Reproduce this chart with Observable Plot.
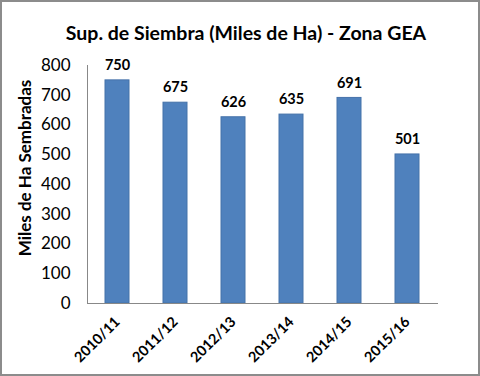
<!DOCTYPE html>
<html>
<head>
<meta charset="utf-8">
<script src="https://cdn.jsdelivr.net/npm/d3@7"></script>
<script src="https://cdn.jsdelivr.net/npm/@observablehq/plot@0.6"></script>
<style>
  html, body { margin: 0; padding: 0; background: #fff; }
  #frame { position: relative; width: 480px; height: 376px; box-sizing: border-box; border: 2px solid #8c8c8c; background: #fff; font-family: Lato, "Open Sans", sans-serif; overflow: hidden; }
  #title { height: 51px; text-align: center; font-weight: bold; font-size: 19.5px; line-height: 20px; padding-top: 21px; box-sizing: border-box; padding-left: 12px; color: #000; }
  #ylabel { position: absolute; left: 22px; top: 166px; transform: translate(-50%, -50%) rotate(-90deg); white-space: nowrap; font-weight: bold; font-size: 17px; color: #000; }
  #chart svg { display: block; }
</style>
</head>
<body>
<div id="frame">
  <div id="title">Sup. de Siembra (Miles de Ha) - Zona GEA</div>
  <div id="ylabel">Miles de Ha Sembradas</div>
  <div id="chart"></div>
</div>
<script>
const campaigns = ["2010/11", "2011/12", "2012/13", "2013/14", "2014/15", "2015/16"];
const values = [750, 675, 626, 635, 691, 501];
const yTicks = [0, 100, 200, 300, 400, 500, 600, 700, 800];

const data = campaigns.map((c, i) => ({campaign: c, value: values[i]}));

const chart = Plot.plot({
  width: 476,
  height: 321,
  marginLeft: 85,
  marginRight: 40,
  marginTop: 12,
  marginBottom: 71,
  style: {fontFamily: "Lato, 'Open Sans', sans-serif", color: "#000", background: "#fff"},
  x: {domain: campaigns, paddingInner: 0.58, paddingOuter: 0.29, label: null},
  y: {domain: [0, 800], label: null},
  marks: [
    Plot.barY(data, {x: "campaign", y: "value", fill: "#4f81bd", stroke: "#4572a9", strokeWidth: 1}),
    Plot.text(data, {x: "campaign", y: "value", text: d => String(d.value), dy: -15, fontWeight: "bold", fontSize: 14.5, fill: "#000"}),
    Plot.ruleY([0], {stroke: "#888", strokeWidth: 1}),
    Plot.axisY({ticks: yTicks, tickSize: 0, tickPadding: 17, fontSize: 17, label: null}),
    Plot.axisX({tickSize: 0, tickRotate: -45, tickPadding: 16, fontSize: 14.5, fontWeight: "bold", label: null}),
    Plot.frame({anchor: "left", stroke: "#888"})
  ]
});
document.getElementById("chart").appendChild(chart);
</script>
</body>
</html>
